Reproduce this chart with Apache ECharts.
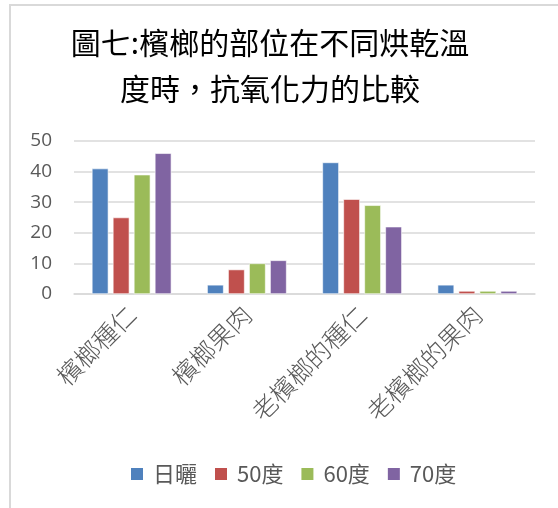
<!DOCTYPE html>
<html>
<head>
<meta charset="utf-8">
<script src="https://cdn.jsdelivr.net/npm/echarts@6/dist/echarts.min.js"></script>
<style>
  html, body { margin: 0; padding: 0; background: #fff; }
  #chart { width: 558px; height: 508px; }
</style>
</head>
<body>
<div id="chart"></div>
<script>
// Parts of the betel nut (categories) and drying methods (series)
const categories = ['檳榔種仁', '檳榔果肉', '老檳榔的種仁', '老檳榔的果肉'];
const seriesNames = ['日曬', '50度', '60度', '70度'];
const sunDried = [41, 3, 43, 3];
const dried50 = [25, 8, 31, 1];
const dried60 = [39, 10, 29, 1];
const dried70 = [46, 11, 22, 1];
const yTicks = [0, 10, 20, 30, 40, 50];

const colors = ['#4F81BD', '#C0504D', '#9BBB59', '#8064A2'];
const valueSets = [sunDried, dried50, dried60, dried70];
const cjk = '"Noto Sans CJK TC", "Noto Sans CJK SC", sans-serif';

const chart = echarts.init(document.getElementById('chart'));
chart.setOption({
  animation: false,
  backgroundColor: '#ffffff',
  title: {
    text: '圖七:檳榔的部位在不同烘乾溫\n度時，抗氧化力的比較',
    left: 265,
    textAlign: 'center',
    top: 15,
    textStyle: {
      fontFamily: cjk,
      fontSize: 30,
      fontWeight: 'normal',
      color: '#000000',
      lineHeight: 46
    }
  },
  graphic: [{
    type: 'rect',
    shape: { x: 10, y: 5, width: 700, height: 700 },
    style: { fill: 'none', stroke: '#D9D9D9', lineWidth: 2 },
    silent: true
  }],
  legend: {
    data: seriesNames,
    left: 124,
    top: 458,
    itemWidth: 14,
    itemHeight: 14,
    itemGap: 16,
    icon: 'rect',
    textStyle: { fontFamily: cjk, fontSize: 22, color: '#595959', padding: [0, 0, 0, 4] }
  },
  grid: { left: 74, right: 23, top: 141, bottom: 214, containLabel: false },
  xAxis: {
    type: 'category',
    data: categories,
    axisLine: { show: true, lineStyle: { color: '#D9D9D9', width: 1.5 } },
    axisTick: { show: false },
    axisLabel: {
      rotate: 45,
      margin: 16,
      interval: 0,
      fontFamily: cjk,
      fontWeight: 300,
      fontSize: 25,
      color: '#595959'
    }
  },
  yAxis: {
    type: 'value',
    min: yTicks[0],
    max: yTicks[yTicks.length - 1],
    interval: 10,
    axisLine: { show: false },
    axisTick: { show: false },
    splitLine: { lineStyle: { color: '#D9D9D9', width: 1.5 } },
    axisLabel: {
      margin: 22,
      fontFamily: '"Open Sans", "Liberation Sans", sans-serif',
      fontSize: 19,
      color: '#595959'
    }
  },
  series: valueSets.map((vals, i) => ({
    name: seriesNames[i],
    type: 'bar',
    data: vals,
    barGap: '27%',
    barCategoryGap: '31%',
    itemStyle: { color: colors[i], borderColor: '#ffffff', borderWidth: 0.6 }
  }))
});
</script>
</body>
</html>
